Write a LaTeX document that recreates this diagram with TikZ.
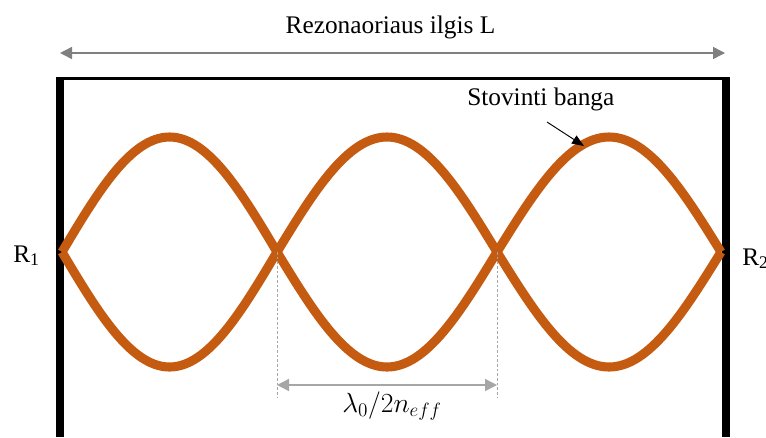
\documentclass[tikz,border=0pt]{standalone}
\usepackage{fontspec}
\setmainfont{Liberation Serif}
\usepackage{tikz}
\usetikzlibrary{arrows.meta}
\definecolor{WaveOrange}{HTML}{C55A11}
\definecolor{DimGray}{HTML}{808080}
\definecolor{GuideGray}{HTML}{A6A6A6}

\begin{document}
\begin{tikzpicture}[x=0.75pt, y=-0.75pt,
            mirror/.style={line width=6pt},
            wave/.style={draw=WaveOrange, line width=6.8pt, line join=round},
            dimarrow/.style={line width=1.1pt, {Triangle[length=9pt, width=9pt]}-{Triangle[length=9pt, width=9pt]}},
            guide/.style={draw=GuideGray, line width=0.5pt, dash pattern=on 2pt off 1.5pt},
            lbl/.style={font=\fontsize{19}{22}\selectfont, inner sep=0pt},
            rlbl/.style={font=\fontsize{19}{22}\selectfont, inner sep=0pt, anchor=base west}
        ]
            \useasboundingbox (0,0) rectangle (766,437);

            \coordinate (n0) at (62,252);
            \coordinate (n1) at (277,252);
            \coordinate (n2) at (497,252);
            \coordinate (n3) at (721,252);

            \draw[mirror] (60,77) -- (60,437);
            \draw[mirror] (726,77) -- (726,437);
            \draw[line width=2.2pt] (57,78.5) -- (729,78.5);

            \draw[wave] (n0) sin (169.5,137) cos (n1) sin (387,367) cos (n2) sin (609,137) cos (n3);
            \draw[wave] (n0) sin (169.5,367) cos (n1) sin (387,137) cos (n2) sin (609,367) cos (n3);

            \node[lbl, anchor=base] (title) at (390.5,33) {Rezonaoriaus ilgis L};
            \coordinate (lenL) at (60,53);
            \coordinate (lenR) at (725,53);
            \draw[dimarrow, draw=DimGray, fill=DimGray] (lenL) -- (lenR);

            \node[rlbl] (r1) at (13,262) {R\textsubscript{1}};
            \node[rlbl] (r2) at (742,265) {R\textsubscript{2}};

            \node[lbl, anchor=base west] (wavename) at (467,105) {Stovinti banga};
            \coordinate (wavetail) at (547,122);
            \coordinate (wavepeak) at (584,146);
            \draw[line width=0.7pt, -{Triangle[length=9pt, width=7pt]}] (wavetail) -- (wavepeak);

            \coordinate (guideend) at (0,398);
            \coordinate (halfy) at (0,385);
            \draw[guide] (n1) -- (n1 |- guideend);
            \draw[guide] (n2) -- (n2 |- guideend);
            \draw[dimarrow, draw=GuideGray, fill=GuideGray] (n1 |- halfy) -- (n2 |- halfy);
            \node[font=\fontsize{21}{24}\selectfont, inner sep=0pt, anchor=base] (halfwave) at (392,412) {$\lambda_0/2n_{eff}$};

        \end{tikzpicture}
\end{document}
